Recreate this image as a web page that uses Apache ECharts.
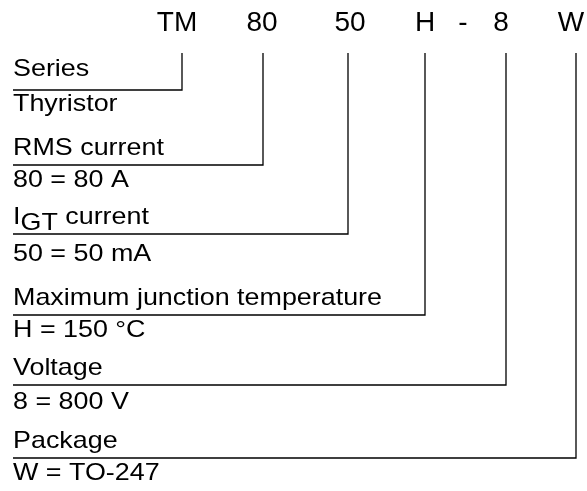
<!DOCTYPE html>
<html>
<head>
<meta charset="utf-8">
<script src="https://cdn.jsdelivr.net/npm/echarts@6/dist/echarts.min.js"></script>
<style>html,body{margin:0;padding:0;background:#fff}#c{width:587px;height:491px}</style>
</head>
<body>
<div id="c"></div>
<script>
// Part-number code segments (top row) and their horizontal centres in diagram units
var codes = ['TM', '80', '50', 'H', '-', '8', 'W'];
var codeX = [177, 262, 350, 425, 463, 501, 571];
// Brackets: vertical stem x and bottom y for each described segment
var bracketStemX = [182, 263, 348, 425, 506, 576];
var bracketBottomY = [90, 165, 234, 315, 385, 458];
// Description rows (left column) and their text baselines
var labelTexts = ['Series', 'Thyristor', 'RMS current', '80 = 80 A', 'IGT current', '50 = 50 mA',
  'Maximum junction temperature', 'H = 150 °C', 'Voltage', '8 = 800 V', 'Package', 'W = TO-247'];
var labelBaseY = [78, 113, 157, 189, 226, 263, 307, 339, 377, 411, 450, 482];
var codeBaseY = 33;
var stemTopY = 53;
var leftX = 13;

var FONT = 'Liberation Sans, Arial, Helvetica, sans-serif';
var FS = 24;
var MID = 8.5;
var SX = 1.12;
var CFS = 28;
var CMID = 9.9;

var ctx = document.createElement('canvas').getContext('2d');
ctx.font = FS + 'px ' + FONT;
function tw(s) { return ctx.measureText(s).width * SX; }

var chart = echarts.init(document.getElementById('c'), null, {renderer: 'canvas'});

var bracketData = bracketStemX.map(function (x, i) { return [x, bracketBottomY[i]]; });
var codeData = codes.map(function (c, i) { return [codeX[i], codeBaseY, c]; });
var labelData = labelTexts.map(function (t, i) { return [leftX, labelBaseY[i], t]; });

function textEl(x, y, s, align, fs, sx) {
  return {
    type: 'text',
    x: x, y: y, scaleX: sx || SX,
    style: {text: s, fill: '#000', font: (fs || FS) + 'px ' + FONT, align: align || 'left', verticalAlign: 'middle'}
  };
}

chart.setOption({
  animation: false,
  grid: {left: 0, right: 0, top: 0, bottom: 0},
  xAxis: {type: 'value', min: 0, max: 587, show: false},
  yAxis: {type: 'value', min: 0, max: 491, inverse: true, show: false},
  series: [
    {
      type: 'custom',
      data: bracketData,
      renderItem: function (params, api) {
        var top = api.coord([api.value(0), stemTopY]);
        var bot = api.coord([api.value(0), api.value(1)]);
        var left = api.coord([leftX, api.value(1)]);
        return {
          type: 'polyline',
          shape: {points: [top, bot, left]},
          style: {stroke: '#000', lineWidth: 1.3, fill: null}
        };
      }
    },
    {
      type: 'custom',
      data: codeData,
      renderItem: function (params, api) {
        var p = api.coord([api.value(0), api.value(1)]);
        return textEl(p[0], p[1] - CMID, codes[params.dataIndex], 'center', CFS, 1.0);
      }
    },
    {
      type: 'custom',
      data: labelData,
      renderItem: function (params, api) {
        var p = api.coord([api.value(0), api.value(1)]);
        var t = labelTexts[params.dataIndex];
        if (t.indexOf('IGT') === 0) {
          var w1 = tw('I');
          var w2 = tw('GT');
          return {
            type: 'group',
            children: [
              textEl(p[0], p[1] - MID, 'I'),
              textEl(p[0] + w1, p[1] - MID + 6, 'GT'),
              textEl(p[0] + w1 + w2, p[1] - MID, t.slice(3))
            ]
          };
        }
        return textEl(p[0], p[1] - MID, t);
      }
    }
  ]
});
</script>
</body>
</html>
